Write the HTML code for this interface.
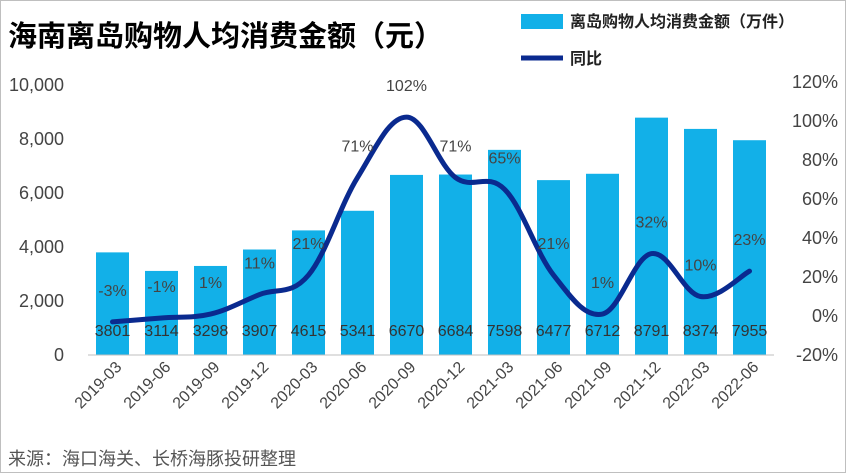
<!DOCTYPE html>
<html><head><meta charset="utf-8"><style>
html,body{margin:0;padding:0;background:#fff;}
#wrap{position:relative;width:846px;height:473px;overflow:hidden;font-family:"Liberation Sans","Noto Sans CJK SC",sans-serif;}
</style></head><body>
<div id="wrap">
<svg id="chart" width="846" height="473" xmlns="http://www.w3.org/2000/svg">
<rect x="0.5" y="0.5" width="845" height="472" fill="#fff" stroke="#bfbfbf"/>
<text x="8" y="46" font-size="29" font-weight="bold" fill="#000" font-family="Liberation Sans,Noto Sans CJK SC,sans-serif">海南离岛购物人均消费金额（元）</text>
<rect x="521" y="14" width="42" height="15" fill="#12b0e8"/>
<text x="570" y="27" font-size="16" font-weight="bold" fill="#222" font-family="Liberation Sans,Noto Sans CJK SC,sans-serif">离岛购物人均消费金额（万件）</text>
<line x1="521" y1="58" x2="563" y2="58" stroke="#0a2a8f" stroke-width="5"/>
<text x="570" y="64" font-size="16" font-weight="bold" fill="#222" font-family="Liberation Sans,Noto Sans CJK SC,sans-serif">同比</text>
<g id="g"></g>
<text x="8" y="465" font-size="18" fill="#555" font-family="Liberation Sans,Noto Sans CJK SC,sans-serif">来源：海口海关、长桥海豚投研整理</text>
</svg>
</div>
<script>
const categories=["2019-03","2019-06","2019-09","2019-12","2020-03","2020-06","2020-09","2020-12","2021-03","2021-06","2021-09","2021-12","2022-03","2022-06"];
const amounts=[3801,3114,3298,3907,4615,5341,6670,6684,7598,6477,6712,8791,8374,7955];
const yoy=[-3,-1,1,11,21,71,102,71,65,21,1,32,10,23];
const leftTicks=[0,2000,4000,6000,8000,10000];
const rightTicks=[-20,0,20,40,60,80,100,120];
const NS="http://www.w3.org/2000/svg";
const g=document.getElementById('g');
const x0=88,step=49,plotBottom=355,plotTop=85;
const xC=i=>x0+step*(i+0.5);
const yL=v=>plotBottom-(v/10000)*(plotBottom-plotTop);
const yR=v=>355-(v+20)/140*(355-82);
function mk(t,a,txt){const e=document.createElementNS(NS,t);for(const k in a)e.setAttribute(k,a[k]);if(txt!==undefined)e.textContent=txt;g.appendChild(e);return e;}
leftTicks.forEach(v=>{
 const t=mk('text',{x:64,y:yL(v)+6,'text-anchor':'end','font-size':18,fill:'#444'},v.toLocaleString('en-US'));
 
 
});
rightTicks.forEach(v=>{
 const t=mk('text',{x:838,y:yR(v)+6,'text-anchor':'end','font-size':18,fill:'#444'},v+'%');
 
 
});
const bw=33;
amounts.forEach((v,i)=>{
 const r=mk('rect',{x:xC(i)-bw/2,y:yL(v),width:bw,height:plotBottom-yL(v),fill:'#12b0e8'});
 
 
});
const ax=mk('line',{x1:x0,y1:plotBottom,x2:x0+step*14,y2:plotBottom,stroke:'#bfbfbf'});


amounts.forEach((v,i)=>{
 const t=mk('text',{x:xC(i),y:336,'text-anchor':'middle','font-size':16,fill:'#333'},v);
 
 
});
const pts=yoy.map((v,i)=>[xC(i),yR(v)]);
let d='M'+pts[0][0]+','+pts[0][1];
for(let i=0;i<pts.length-1;i++){
 const p0=pts[i-1]||pts[i],p1=pts[i],p2=pts[i+1],p3=pts[i+2]||p2;
 const t=0.18;
 d+=' C'+(p1[0]+(p2[0]-p0[0])*t)+','+(p1[1]+(p2[1]-p0[1])*t)+' '+(p2[0]-(p3[0]-p1[0])*t)+','+(p2[1]-(p3[1]-p1[1])*t)+' '+p2[0]+','+p2[1];
}
const ln=mk('path',{d:d,fill:'none',stroke:'#0a2a8f','stroke-width':5,'stroke-linecap':'round'});


yoy.forEach((v,i)=>{
 const t=mk('text',{x:xC(i),y:yR(v)-26,'text-anchor':'middle','font-size':16,fill:'#444'},v+'%');
 
 
});
categories.forEach((c,i)=>{
 const x=xC(i)+10,y=368;
 const t=mk('text',{x:x,y:y,'text-anchor':'end','font-size':16,fill:'#444',transform:'rotate(-45 '+x+' '+y+')'},c);
 
 
});
</script>
</body></html>
